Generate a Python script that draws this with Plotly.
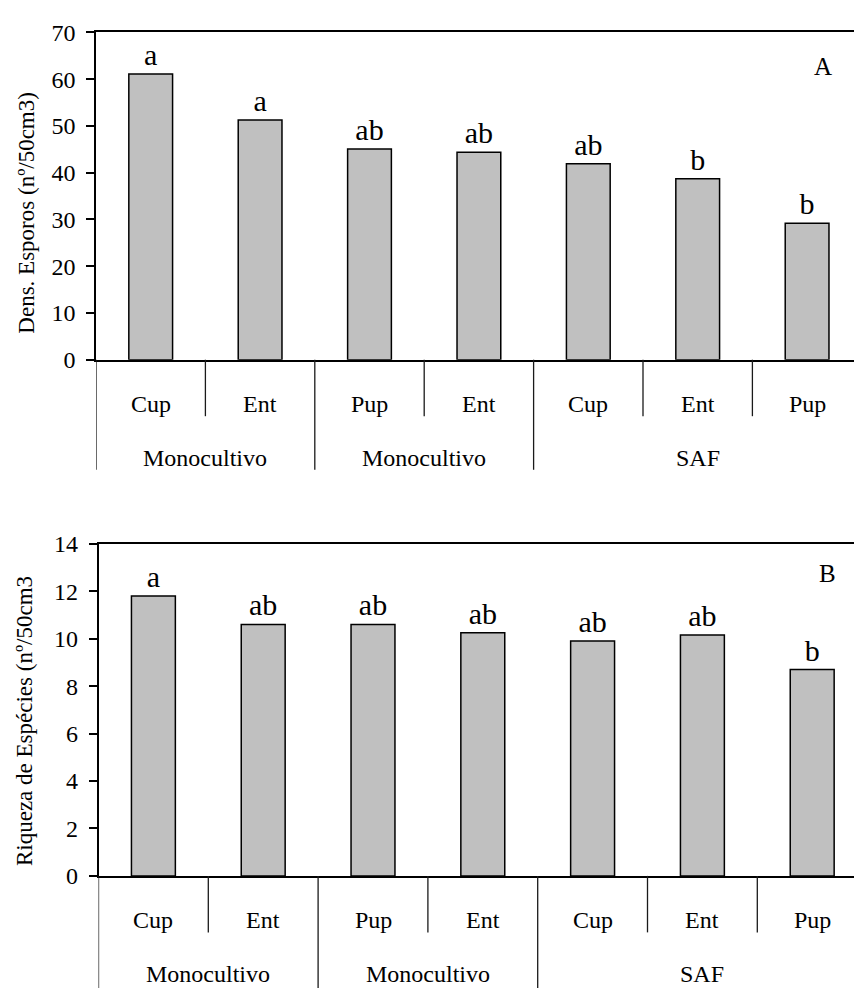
import plotly.graph_objects as go

# Categories (inner level) and their groups
categories = ["Cup", "Ent", "Pup", "Ent", "Cup", "Ent", "Pup"]
groups = ["Monocultivo", "Monocultivo", "SAF"]
group_spans = [(0, 1), (2, 3), (4, 6)]

# Panel A: spore density
dens_values = [61.1, 51.3, 45.1, 44.4, 41.9, 38.7, 29.2]
dens_letters = ["a", "a", "ab", "ab", "ab", "b", "b"]

# Panel B: species richness
riq_values = [11.8, 10.6, 10.6, 10.25, 9.9, 10.15, 8.7]
riq_letters = ["a", "ab", "ab", "ab", "ab", "ab", "b"]

W, H = 854, 997
FONT = "Liberation Serif, Times New Roman, serif"
x_pos = list(range(len(categories)))

fig = go.Figure()

panels = [
    dict(vals=dens_values, letters=dens_letters, xa="x", ya="y",
         left=96, top=20, bottom=356, cat_w=109.4, ymax=70, dtick=10,
         title="Dens. Esporos (nº/50cm3)", title_x=27, title_y=205,
         tag="A", tag_x=823, tag_y=55, long_len=113),
    dict(vals=riq_values, letters=riq_letters, xa="x2", ya="y2",
         left=98.5, top=545, bottom=886, cat_w=109.8, ymax=14, dtick=2,
         title="Riqueza de Espécies (nº/50cm3", title_x=24, title_y=727,
         tag="B", tag_x=827, tag_y=575, long_len=115),
]

shapes = []
annotations = []

for i, p in enumerate(panels):
    fig.add_trace(go.Bar(
        x=x_pos, y=p["vals"], xaxis=p["xa"], yaxis=p["ya"],
        width=0.4,
        marker=dict(color="#C0C0C0", line=dict(color="black", width=1.5)),
        text=p["letters"], textposition="outside", cliponaxis=False,
        constraintext="none",
        textfont=dict(family=FONT, size=30, color="black"),
        showlegend=False, hoverinfo="skip",
    ))

    suffix = "" if i == 0 else "2"
    plot_w = W - p["left"]
    x_end = -0.5 + plot_w / p["cat_w"]
    fig.update_layout({
        f"xaxis{suffix}": dict(
            domain=[p["left"] / W, 1], range=[-0.5, x_end],
            anchor=f"y{suffix}", showticklabels=False, ticks="",
            showgrid=False, zeroline=False,
            showline=True, linecolor="black", linewidth=1.5, mirror=True,
        ),
        f"yaxis{suffix}": dict(
            domain=[1 - p["bottom"] / H, 1 - p["top"] / H],
            range=[0, p["ymax"]], dtick=p["dtick"], anchor=f"x{suffix}",
            showgrid=False, zeroline=False,
            showline=True, linecolor="black", linewidth=1.5,
            ticks="outside", ticklen=8, tickwidth=1.5, tickcolor="black",
            ticklabelstandoff=6,
            tickfont=dict(family=FONT, size=24, color="black"),
        ),
    })

    xr, yr = p["xa"], p["ya"]
    base = 1 - p["bottom"] / H  # baseline in paper units
    # category dividers below the baseline: long ones close the groups
    group_edges = {-0.5} | {s - 0.5 for s, _ in group_spans} | {e + 0.5 for _, e in group_spans}
    for b in range(len(categories) + 1):
        edge = b - 0.5
        length = p["long_len"] if edge in group_edges else 58
        shapes.append(dict(
            type="line", xref=xr, yref="paper",
            x0=edge, x1=edge, y0=base, y1=base - length / H,
            line=dict(color="#1a1a1a", width=1.3),
        ))

    # inner category labels
    for xi, c in zip(x_pos, categories):
        annotations.append(dict(
            x=xi, y=0, xref=xr, yref=yr, yshift=-44, text=c,
            showarrow=False, yanchor="middle",
            font=dict(family=FONT, size=24, color="black"),
        ))
    # group labels
    for g, (s, e) in zip(groups, group_spans):
        annotations.append(dict(
            x=(s + e) / 2, y=0, xref=xr, yref=yr, yshift=-98, text=g,
            showarrow=False, yanchor="middle",
            font=dict(family=FONT, size=24, color="black"),
        ))

    # y axis title
    annotations.append(dict(
        x=p["title_x"] / W, y=1 - p["title_y"] / H, xref="paper", yref="paper",
        text=p["title"], textangle=-90, showarrow=False,
        xanchor="center", yanchor="middle",
        font=dict(family=FONT, size=23, color="black"),
    ))
    # panel tag
    annotations.append(dict(
        x=p["tag_x"] / W, y=1 - p["tag_y"] / H, xref="paper", yref="paper",
        text=p["tag"], showarrow=False, xanchor="center", yanchor="middle",
        font=dict(family=FONT, size=25, color="black"),
    ))

fig.update_layout(
    width=W, height=H,
    margin=dict(l=0, r=0, t=0, b=0),
    paper_bgcolor="white", plot_bgcolor="white",
    shapes=shapes, annotations=annotations,
    bargap=0.6,
)

fig.write_html("out.html")
